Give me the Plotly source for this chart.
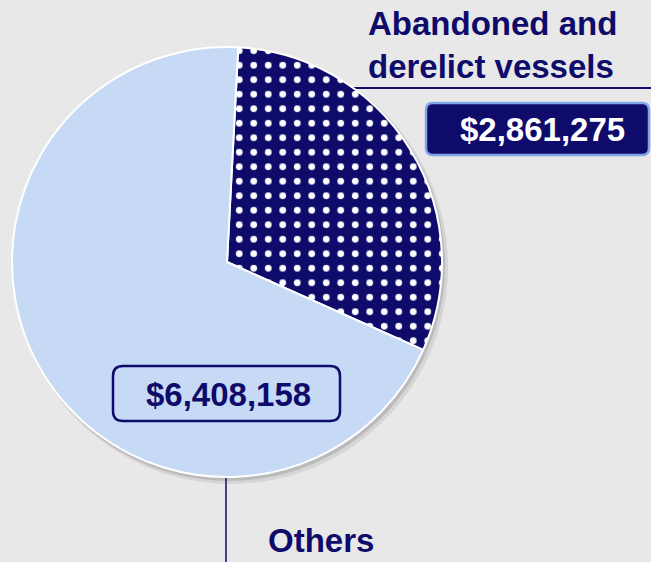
import plotly.graph_objects as go

# données
categories = ["Abandoned and<br>derelict vessels", "Others"]
valeurs = [2861275, 6408158]
etiquettes = [f"${v:,}" for v in valeurs]

W, H = 651, 562
NAVY = "#0e0b6b"
LIGHT = "#c6daf6"
BG = "#e8e8e8"


def px(x):
    return x / W


def py(y):
    return 1 - y / H


def rounded_rect(x0, y0, x1, y1, r):
    # chemin SVG en coordonnées papier (pixels convertis)
    pts = [
        f"M {px(x0 + r)},{py(y0)}",
        f"L {px(x1 - r)},{py(y0)}",
        f"Q {px(x1)},{py(y0)} {px(x1)},{py(y0 + r)}",
        f"L {px(x1)},{py(y1 - r)}",
        f"Q {px(x1)},{py(y1)} {px(x1 - r)},{py(y1)}",
        f"L {px(x0 + r)},{py(y1)}",
        f"Q {px(x0)},{py(y1)} {px(x0)},{py(y1 - r)}",
        f"L {px(x0)},{py(y0 + r)}",
        f"Q {px(x0)},{py(y0)} {px(x0 + r)},{py(y0)} Z",
    ]
    return " ".join(pts)


cx, cy, R = 227, 262, 215

fig = go.Figure(go.Pie(
    labels=categories, values=valeurs,
    sort=False, direction="clockwise", rotation=3,
    textinfo="none", hoverinfo="label+value",
    marker=dict(
        colors=[NAVY, LIGHT],
        line=dict(color="white", width=2),
        pattern=dict(shape=[".", ""], fgcolor="white", bgcolor=NAVY, size=14.5, solidity=0.17,
                     fillmode="replace"),
    ),
    domain=dict(x=[px(cx - R), px(cx + R)], y=[py(cy + R), py(cy - R)]),
    showlegend=False,
))

shapes = [
    # ombre
    dict(type="circle", xref="paper", yref="paper", layer="below",
         x0=px(cx - R + 2), x1=px(cx + R + 6), y0=py(cy + R + 7), y1=py(cy - R + 2),
         fillcolor="rgba(0,0,0,0.08)", line=dict(width=0)),
    dict(type="circle", xref="paper", yref="paper", layer="below",
         x0=px(cx - R + 1), x1=px(cx + R + 3), y0=py(cy + R + 4), y1=py(cy - R + 1),
         fillcolor="rgba(0,0,0,0.12)", line=dict(width=0)),
    # lignes de rappel
    dict(type="line", xref="paper", yref="paper", x0=px(352), x1=1, y0=py(88), y1=py(88),
         line=dict(color=NAVY, width=2), layer="below"),
    dict(type="line", xref="paper", yref="paper", x0=px(226), x1=px(226), y0=py(478), y1=0,
         line=dict(color=NAVY, width=1.5), layer="below"),
    # cadres des valeurs
    dict(type="path", xref="paper", yref="paper", path=rounded_rect(426, 103, 649, 155, 7),
         fillcolor=NAVY, line=dict(color="#7fa6ea", width=2.5), layer="above"),
    dict(type="path", xref="paper", yref="paper", path=rounded_rect(113, 366, 340, 421, 10),
         fillcolor=LIGHT, line=dict(color=NAVY, width=2.5), layer="above"),
]

police = dict(family="Liberation Sans, Arial", size=33, color=NAVY)
annotations = [
    dict(text=f"<b>{categories[0]}</b>", x=px(366), y=py(3), xanchor="left", yanchor="top",
         align="left", font=police),
    dict(text=f"<b>{categories[1]}</b>", x=px(321), y=py(540), xanchor="center", yanchor="middle",
         font=police),
    dict(text=f"<b>{etiquettes[0]}</b>", x=px(542), y=py(129), xanchor="center", yanchor="middle",
         font=dict(family="Liberation Sans, Arial", size=33, color="white")),
    dict(text=f"<b>{etiquettes[1]}</b>", x=px(228), y=py(394), xanchor="center", yanchor="middle",
         font=police),
]
for a in annotations:
    a.update(xref="paper", yref="paper", showarrow=False)

fig.update_layout(
    width=W, height=H,
    margin=dict(l=0, r=0, t=0, b=0),
    paper_bgcolor=BG, plot_bgcolor=BG,
    shapes=shapes, annotations=annotations,
)

fig.write_html("out.html", config={"displayModeBar": False},
               post_script="document.body.style.margin='0';")
